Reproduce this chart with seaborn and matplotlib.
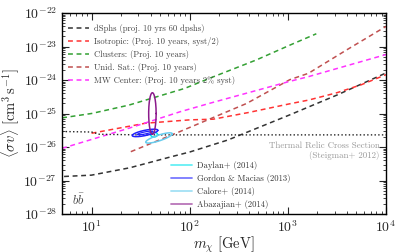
import numpy as np
import matplotlib
matplotlib.use('Agg')
import matplotlib.pyplot as plt
import seaborn as sns
from matplotlib.lines import Line2D

# projected limits: log10(m / GeV) and log10(<sigma v> / cm^3 s^-1)
dsph_lm = [0.72, 1.0, 1.39, 1.80, 2.0, 2.39, 3.02, 3.5, 4.0]
dsph_ls = [-26.88, -26.84, -26.62, -26.30, -26.15, -25.79, -25.04, -24.45, -23.79]

iso_lm = [1.0, 1.55, 2.0, 2.24, 2.6, 3.02, 3.21, 3.5, 3.75, 4.0]
iso_ls = [-25.59, -25.29, -25.19, -25.17, -24.97, -24.71, -24.60, -24.38, -24.14, -23.84]

clus_lm = [0.70, 1.0, 1.38, 1.95, 2.21, 2.68, 3.02, 3.29]
clus_ls = [-25.13, -25.0, -24.75, -24.25, -23.94, -23.40, -22.96, -22.62]

unid_lm = [1.40, 1.90, 2.58, 3.02, 3.21, 3.6, 4.0]
unid_ls = [-26.14, -25.54, -24.70, -23.99, -23.80, -23.1, -22.40]

mw_lm = [0.70, 1.38, 1.90, 2.21, 3.02, 3.21, 4.0]
mw_ls = [-26.04, -25.44, -24.95, -24.69, -24.04, -23.90, -23.24]

relic_m = [5, 10, 12, 30, 100, 1e4]
relic_sv = [2.9e-26, 2.8e-26, 2.4e-26, 2.3e-26, 2.3e-26, 2.3e-26]

limit_labels = ['dSphs (proj. 10 yrs 60 dpshs)',
                'Isotropic: (Proj. 10 years, syst/2)',
                'Clusters: (Proj. 10 years)',
                'Unid. Sat.: (Proj. 10 years)',
                'MW Center: (Proj. 10 years 2% syst)']
limit_colors = ['#333333', '#ff3333', '#33a033', '#c05050', '#ff33ff']

# GC excess fits: centre (log m, log sv), half widths in dex, tilt
fit_labels = ['Daylan+ (2014)', 'Gordon & Macias (2013)', 'Calore+ (2014)', 'Abazajian+ (2014)']
fit_colors = ['#00e5ee', '#2020ff', '#66ccee', '#8b1a8b']
fit_lm = [1.637, 1.545, 1.687, 1.62]
fit_ls = [-25.63, -25.58, -25.73, -25.0]
fit_a = [0.035, 0.13, 0.135, 0.038]
fit_b = [0.07, 0.08, 0.09, 0.62]
fit_tilt = [0.0, 0.59, 0.92, 0.0]

sns.set_theme(style='ticks')
plt.rcParams['font.family'] = ['cmr10', 'DejaVu Serif']
plt.rcParams['mathtext.fontset'] = 'cm'
plt.rcParams['axes.formatter.use_mathtext'] = True
plt.rcParams['lines.dashed_pattern'] = [3.2, 2.4]

fig = plt.figure(figsize=(4.07, 2.52), dpi=100)
ax = fig.add_axes([62 / 407, 1 - 214 / 252, 324 / 407, 201 / 252])

curves = [(dsph_lm, dsph_ls), (iso_lm, iso_ls), (clus_lm, clus_ls),
          (unid_lm, unid_ls), (mw_lm, mw_ls)]
for (lm, ls), lab, col in zip(curves, limit_labels, limit_colors):
    sns.lineplot(x=10 ** np.array(lm), y=10 ** np.array(ls), ax=ax, color=col,
                 linestyle='--', lw=1.1, label=lab, sort=False)

sns.lineplot(x=relic_m, y=relic_sv, ax=ax, color='#222222', linestyle=':', lw=1.0, sort=False)

t = np.linspace(0, 2 * np.pi, 200)
for i in range(len(fit_labels)):
    ex = fit_lm[i] + fit_a[i] * np.cos(t)
    ey = fit_ls[i] + fit_b[i] * np.sin(t) + fit_tilt[i] * fit_a[i] * np.cos(t)
    ax.plot(10 ** ex, 10 ** ey, color=fit_colors[i], lw=1.1)
    if i == 1:
        ax.plot(10 ** (fit_lm[i] + 0.6 * fit_a[i] * np.cos(t)),
                10 ** (fit_ls[i] + 0.4 * fit_b[i] * np.sin(t) + fit_tilt[i] * 0.6 * fit_a[i] * np.cos(t)),
                color=fit_colors[i], lw=0.9)

ax.set_xscale('log')
ax.set_yscale('log')
ax.set_xlim(5, 1e4)
ax.set_ylim(1e-28, 1e-22)
ax.set_xlabel(r'$m_\chi\ [\mathrm{GeV}]$', fontsize=10.5, labelpad=0)
ax.set_ylabel(r'$\langle\sigma v\rangle\ [\mathrm{cm}^3\,\mathrm{s}^{-1}]$', fontsize=10.5, labelpad=1)
ax.tick_params(which='both', direction='in', top=True, right=True, labelsize=10)
ax.tick_params(which='major', length=5, width=0.8)
ax.tick_params(which='minor', length=2.5, width=0.6)
for s in ax.spines.values():
    s.set_linewidth(1.0)
    s.set_color('black')

leg1 = ax.legend(loc='upper left', bbox_to_anchor=(0.0, 0.975), frameon=False, fontsize=6.2,
                 handlelength=2.4, labelspacing=0.45, handletextpad=0.6, borderaxespad=0.3)
for txt in leg1.get_texts():
    txt.set_color('#444444')
ax.add_artist(leg1)

handles = [Line2D([0], [0], color=c, lw=1.3, alpha=0.6) for c in fit_colors]
leg2 = ax.legend(handles, fit_labels, loc='lower left', bbox_to_anchor=(0.318, -0.005), frameon=False,
                 fontsize=6.2, handlelength=2.4, labelspacing=0.45, handletextpad=0.6, borderaxespad=0.3)
for txt in leg2.get_texts():
    txt.set_color('#333333')

ax.text(0.98, 0.315, 'Thermal Relic Cross Section\n(Steigman+ 2012)', transform=ax.transAxes,
        ha='right', va='center', fontsize=6.4, color='#999999', linespacing=1.25)
ax.text(0.03, 0.05, r'$b\bar{b}$', transform=ax.transAxes, fontsize=9, color='#444444')

fig.savefig('out.png', dpi=100)
